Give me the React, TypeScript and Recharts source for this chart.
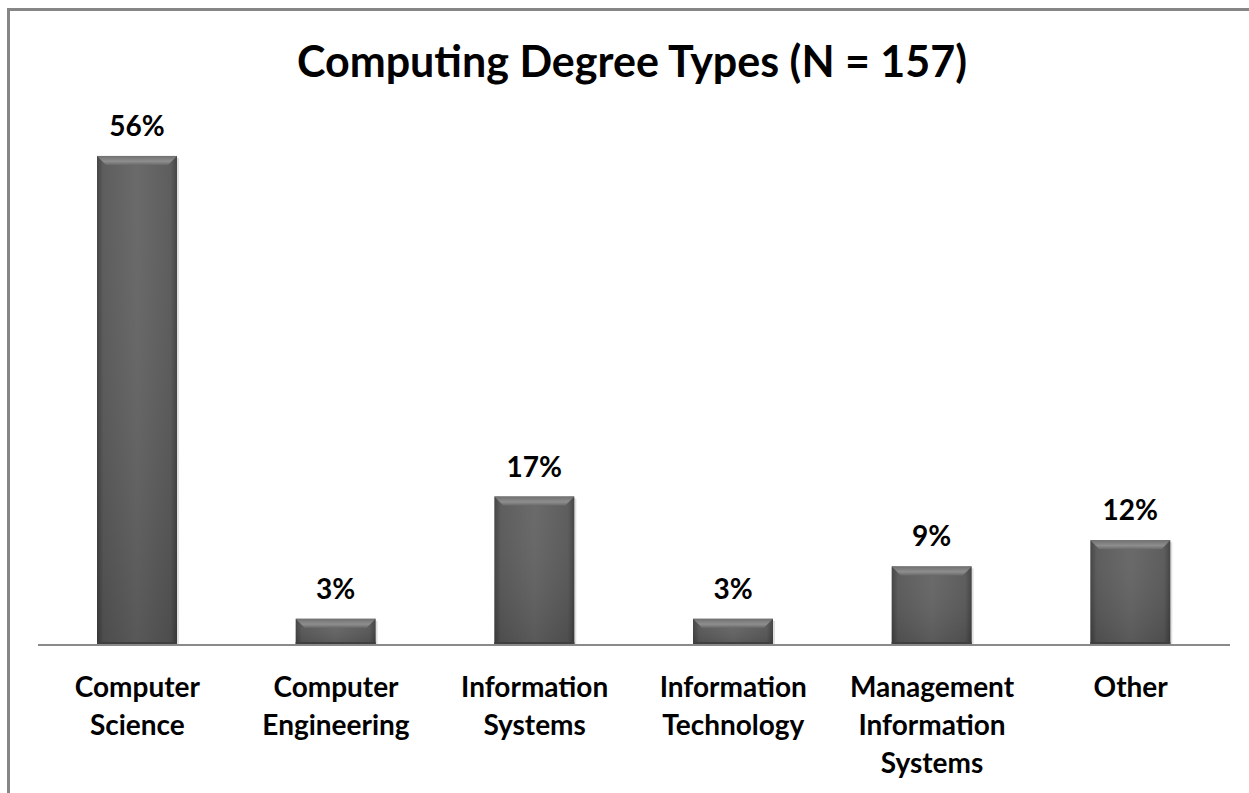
import { BarChart, Bar, XAxis, YAxis, LabelList } from 'recharts'

const categories = [
  'Computer Science',
  'Computer Engineering',
  'Information Systems',
  'Information Technology',
  'Management Information Systems',
  'Other',
]
const shares = [56, 3, 17, 3, 9, 12]

const chartData = categories.map((name, i) => ({ name, value: shares[i] }))

const FONT = 'Lato, "Open Sans", sans-serif'

function BevelBar(props: any) {
  const { x, y, width, height } = props
  if (!height || height <= 0) return null
  const b = Math.min(9, height / 2)
  return (
    <g>
      <rect x={x + 2} y={y + 2} width={width} height={height - 2} fill="#000" opacity={0.12} />
      <rect x={x} y={y} width={width} height={height} fill="url(#barBody)" />
      <rect x={x} y={y} width={width} height={height} fill="url(#barVert)" />
      <polygon
        points={`${x},${y} ${x + width},${y} ${x + width - b},${y + b} ${x + b},${y + b}`}
        fill="url(#barTop)"
      />
      <rect x={x} y={y + height - 3} width={width} height={3} fill="#3f3f3f" />
    </g>
  )
}

function WrapTick(props: any) {
  const { x, y, payload } = props
  const words = String(payload.value).split(' ')
  return (
    <text
      x={x}
      y={y}
      textAnchor="middle"
      fill="#000"
      fontFamily={FONT}
      fontWeight={700}
      fontSize={28}
    >
      {words.map((w, i) => (
        <tspan key={i} x={x} dy={i === 0 ? 44 : 38}>
          {w}
        </tspan>
      ))}
    </text>
  )
}

export default function App() {
  return (
    <div style={{ position: 'fixed', left: 0, top: 0, width: 1249, height: 793, background: '#fff', overflow: 'hidden' }}>
      <div
        style={{
          position: 'absolute',
          left: 7,
          top: 8,
          width: 1400,
          height: 1000,
          borderLeft: '3px solid #868686',
          borderTop: '3px solid #868686',
        }}
      />
      <div
        style={{
          position: 'absolute',
          left: 0,
          width: 1249,
          top: 36,
          textAlign: 'center',
          fontFamily: FONT,
          fontWeight: 700,
          fontSize: 43,
          lineHeight: '50px',
          color: '#000',
          paddingLeft: 15,
          boxSizing: 'border-box',
          whiteSpace: 'nowrap',
        }}
      >
        Computing Degree Types (N = 157)
      </div>
      <div style={{ position: 'absolute', left: 0, top: 0 }}>
        <BarChart
          width={1249}
          height={793}
          data={chartData}
          margin={{ top: 121, right: 19, left: 38, bottom: 0 }}
          barCategoryGap="30%"
        >
          <defs>
            <linearGradient id="barBody" x1="0" y1="0" x2="1" y2="0">
              <stop offset="0%" stopColor="#3e3e3e" />
              <stop offset="8%" stopColor="#575757" />
              <stop offset="50%" stopColor="#646464" />
              <stop offset="92%" stopColor="#575757" />
              <stop offset="100%" stopColor="#3e3e3e" />
            </linearGradient>
            <linearGradient id="barVert" x1="0" y1="0" x2="0" y2="1">
              <stop offset="0%" stopColor="#fff" stopOpacity={0.04} />
              <stop offset="100%" stopColor="#000" stopOpacity={0.12} />
            </linearGradient>
            <linearGradient id="barTop" x1="0" y1="0" x2="0" y2="1">
              <stop offset="0%" stopColor="#707070" />
              <stop offset="60%" stopColor="#8e8e8e" />
              <stop offset="100%" stopColor="#6a6a6a" />
            </linearGradient>
          </defs>
          <XAxis
            dataKey="name"
            axisLine={{ stroke: '#8a8a8a', strokeWidth: 2 }}
            tickLine={false}
            tick={<WrapTick />}
            interval={0}
            height={148}
          />
          <YAxis hide domain={[0, 60]} />
          <Bar dataKey="value" barSize={80} shape={<BevelBar />} isAnimationActive={false}>
            <LabelList
              dataKey="value"
              position="top"
              offset={20}
              formatter={(v: any) => `${v}%`}
              style={{ fontFamily: FONT, fontWeight: 700, fontSize: 28, fill: '#000' }}
            />
          </Bar>
        </BarChart>
      </div>
    </div>
  )
}
